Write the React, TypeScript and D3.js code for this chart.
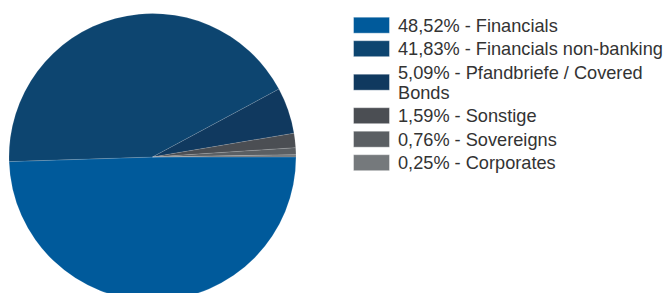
import * as d3 from 'd3';
import React from 'react';

// Portfolio breakdown
const categories = [
  'Financials',
  'Financials non-banking',
  'Pfandbriefe / Covered Bonds',
  'Sonstige',
  'Sovereigns',
  'Corporates',
];
const shares = [48.52, 41.83, 5.09, 1.59, 0.76, 0.25];
const colors = ['#005a9b', '#0d4570', '#10395f', '#4b4e53', '#5b5f63', '#75797c'];
// legend text lines (German number format)
const legendLines = [
  ['48,52% - Financials'],
  ['41,83% - Financials non-banking'],
  ['5,09% - Pfandbriefe / Covered', 'Bonds'],
  ['1,59% - Sonstige'],
  ['0,76% - Sovereigns'],
  ['0,25% - Corporates'],
];

export default function App() {
  const width = 668;
  const height = 293;
  const cx = 152.5;
  const cy = 157;
  const r = 143.5;

  const pie = d3.pie<number>()
    .sort(null)
    .startAngle(Math.PI / 2)
    .endAngle(Math.PI / 2 + 2 * Math.PI);
  const arcs = pie(shares);
  const arc = d3.arc<d3.PieArcDatum<number>>().innerRadius(0).outerRadius(r);

  // legend rows
  const lineH = 20;
  const rowGap = 3.5;
  let y = 15.2;
  const rows = legendLines.map((lines, i) => {
    const h = lines.length * lineH;
    const row = { y, h, lines, i };
    y += h + rowGap;
    return row;
  });

  return (
    <svg
      width={width}
      height={height}
      style={{ position: 'absolute', left: 0, top: 0, fontFamily: '"Liberation Sans", Arial, sans-serif' }}
    >
      <g transform={`translate(${cx},${cy})`}>
        {arcs.map((a, i) => (
          <path
            key={categories[i]}
            d={arc(a) || ''}
            fill={colors[i]}
            stroke="#ffffff"
            strokeOpacity={0.15}
            strokeWidth={0.8}
          />
        ))}
      </g>
      <g>
        {rows.map((row) => {
          const swY = row.y + row.h / 2 - 8;
          return (
            <g key={row.i}>
              <rect
                x={353.5}
                y={swY}
                width={36}
                height={16}
                fill={colors[row.i]}
                stroke="#ffffff"
                strokeOpacity={0.4}
                strokeWidth={1}
              />
              {row.lines.map((t, j) => (
                <text
                  key={j}
                  x={398}
                  y={row.y + j * lineH + lineH / 2}
                  dy="0.35em"
                  fontSize={18.2}
                  fill="#333333"
                >
                  {t}
                </text>
              ))}
            </g>
          );
        })}
      </g>
    </svg>
  );
}
